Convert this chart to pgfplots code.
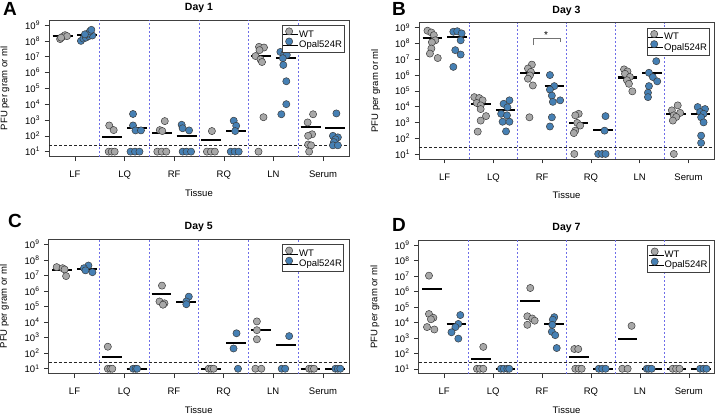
\documentclass[border=0pt]{standalone}
\usepackage{fontspec}
\setmainfont{Liberation Sans}
\usepackage{pgfplots}
\pgfplotsset{compat=1.18}
\definecolor{wtc}{RGB}{168,168,168}
\definecolor{opc}{RGB}{70,128,180}
\definecolor{sepc}{RGB}{110,110,232}
\definecolor{edgec}{RGB}{60,60,60}

\pgfplotsset{
 every tick/.style={black!80, line width=0.5pt},
 every axis x label/.style={at={(axis description cs:0.5,0)}, anchor=center, yshift=-36pt},
 every axis y label/.style={at={(axis description cs:-0.147,0.5)}, anchor=center, rotate=90},
 every axis title/.style={font=\bfseries\fontsize{10.5}{11}\selectfont, at={(axis description cs:0.5,1)}, anchor=center, yshift=12pt},
 legend image code/.code={\path (-6pt,0pt) -- (9pt,0pt); \draw[#1] plot coordinates {(0pt,3.3pt)};},
}
\pgfplotsset{
 wtpts/.style={only marks, mark=*, mark size=3.6pt, mark options={fill=wtc, draw=edgec, line width=0.5pt}},
 oppts/.style={only marks, mark=*, mark size=3.6pt, mark options={fill=opc, draw=edgec, line width=0.5pt}},
 medbar/.style={forget plot, black, line width=2.1pt, mark=none},
}
\newcommand{\guides}{%
 \pgfplotsinvokeforeach{1.5,2.5,3.5,4.5,5.5}{\draw[sepc, dash pattern=on 2pt off 2pt, line width=0.8pt] (axis cs:##1,4.786) -- (axis cs:##1,2.089e9);}
 \draw[black!85, dash pattern=on 3pt off 2pt, line width=0.5pt] (axis cs:0.476,25) -- (axis cs:6.524,25);
}

\begin{document}
\begin{tikzpicture}
\path[use as bounding box] (0,0) rectangle (720pt,415pt);

% ---------------- Panel A: Day 1 ----------------
\begin{axis}[at={(49pt,258.3pt)}, anchor=south west, scale only axis, width=300pt, height=136.7pt, title={Day 1},
  xmin=0.476, xmax=6.524, ymode=log, ymin=4.786, ymax=2.089e9,
  xtick={1,2,3,4,5,6}, xticklabels={LF,LQ,RF,RQ,LN,Serum},
  ytick={1e1,1e2,1e3,1e4,1e5,1e6,1e7,1e8,1e9},
  yticklabels={10\textsuperscript{1},10\textsuperscript{2},10\textsuperscript{3},10\textsuperscript{4},10\textsuperscript{5},10\textsuperscript{6},10\textsuperscript{7},10\textsuperscript{8},10\textsuperscript{9}},
  yminorticks=false, tick align=outside, major tick length=4.5pt,
  xtick pos=left, ytick pos=left,
  axis line style={black!75, line width=0.6pt},
  tick label style={font=\fontsize{9.5}{10}\selectfont},
  xticklabel style={yshift=-6.5pt}, yticklabel style={xshift=-1pt},
  label style={font=\fontsize{9.5}{10}\selectfont},
  xlabel={Tissue}, ylabel={PFU per gram or ml},
  legend cell align=left,
  legend style={at={(axis description cs:0.983,0.963)}, anchor=north east, draw=black!75, fill=white,
    font=\fontsize{9.5}{9.5}\selectfont, inner xsep=1pt, inner ysep=2.5pt, row sep=-1.6pt, nodes={inner sep=0.8pt}}]
\guides
\addplot[wtpts] coordinates {
 (0.70,1.3e8) (0.75,1.8e8) (0.80,2.3e8) (0.84,2.0e8) (0.72,1.6e8)
 (1.68,10) (1.74,10) (1.80,10) (1.69,450) (1.78,230)
 (2.66,10) (2.75,10) (2.84,10) (2.81,850) (2.71,230) (2.76,200)
 (3.66,10) (3.74,10) (3.82,10) (3.76,200)
 (4.71,4.2e7) (4.81,3.8e7) (4.72,2.6e7) (4.64,1.1e7) (4.74,6.8e6) (4.77,4.6e6) (4.80,1500) (4.70,10)
 (5.80,2300) (5.69,700) (5.78,125) (5.70,100) (5.70,28) (5.76,25) (5.72,10)
};
\addlegendentry{WT}
\addplot[oppts] coordinates {
 (1.12,1.0e8) (1.17,1.4e8) (1.22,1.6e8) (1.28,2.0e8) (1.35,2.2e8) (1.25,2.8e8) (1.30,4.0e8) (1.33,5.0e8) (1.20,2.6e8)
 (2.17,2400) (2.17,450) (2.22,220) (2.33,220) (2.12,10) (2.21,10) (2.30,10)
 (3.15,500) (3.17,300) (3.30,220) (3.17,10) (3.25,10) (3.34,10)
 (4.20,900) (4.25,430) (4.23,200) (4.14,10) (4.22,10) (4.30,10)
 (5.14,2.0e7) (5.22,1.5e7) (5.27,1.3e7) (5.19,8e6) (5.20,3e6) (5.26,2.8e5) (5.26,1.0e4) (5.16,2300)
 (6.27,2600) (6.20,100) (6.30,80) (6.25,60) (6.22,40) (6.20,25) (6.30,25)
};
\addlegendentry{Opal524R}
\addplot[medbar] coordinates {(0.55,2.0e8) (0.95,2.0e8)};
\addplot[medbar] coordinates {(1.55,80) (1.95,80)};
\addplot[medbar] coordinates {(2.55,150) (2.95,150)};
\addplot[medbar] coordinates {(3.55,52) (3.95,52)};
\addplot[medbar] coordinates {(4.55,1.1e7) (4.95,1.1e7)};
\addplot[medbar] coordinates {(5.55,380) (5.95,380)};
\addplot[medbar] coordinates {(1.05,2.4e8) (1.45,2.4e8)};
\addplot[medbar] coordinates {(2.05,310) (2.45,310)};
\addplot[medbar] coordinates {(3.05,100) (3.45,100)};
\addplot[medbar] coordinates {(4.05,210) (4.45,210)};
\addplot[medbar] coordinates {(5.05,8.5e6) (5.45,8.5e6)};
\addplot[medbar] coordinates {(6.05,300) (6.45,300)};
\end{axis}

% ---------------- Panel B: Day 3 ----------------
\begin{axis}[at={(419pt,256pt)}, anchor=south west, scale only axis, width=295pt, height=136.3pt, title={Day 3},
  xmin=0.476, xmax=6.524, ymode=log, ymin=4.786, ymax=2.089e9,
  xtick={1,2,3,4,5,6}, xticklabels={LF,LQ,RF,RQ,LN,Serum},
  ytick={1e1,1e2,1e3,1e4,1e5,1e6,1e7,1e8,1e9},
  yticklabels={10\textsuperscript{1},10\textsuperscript{2},10\textsuperscript{3},10\textsuperscript{4},10\textsuperscript{5},10\textsuperscript{6},10\textsuperscript{7},10\textsuperscript{8},10\textsuperscript{9}},
  yminorticks=false, tick align=outside, major tick length=4.5pt,
  xtick pos=left, ytick pos=left,
  axis line style={black!75, line width=0.6pt},
  tick label style={font=\fontsize{9.5}{10}\selectfont},
  xticklabel style={yshift=-6.5pt}, yticklabel style={xshift=-1pt},
  label style={font=\fontsize{9.5}{10}\selectfont},
  xlabel={Tissue}, ylabel={PFU per gram or ml},
  legend cell align=left,
  legend style={at={(axis description cs:0.983,0.963)}, anchor=north east, draw=black!75, fill=white,
    font=\fontsize{9.5}{9.5}\selectfont, inner xsep=1pt, inner ysep=2.5pt, row sep=-1.6pt, nodes={inner sep=0.8pt}}]
\guides
\addplot[wtpts] coordinates {
 (0.65,6.5e8) (0.73,5e8) (0.78,3.4e8) (0.81,1.6e8) (0.74,1.2e8) (0.73,4.8e7) (0.70,2.3e7) (0.86,1.2e7)
 (1.61,4e4) (1.71,3.5e4) (1.78,2.5e4) (1.66,1.7e4) (1.74,1.2e4) (1.74,7e3) (1.85,2.5e3) (1.74,1.3e3) (1.68,260)
 (2.79,4.6e6) (2.71,2.6e6) (2.77,1.6e6) (2.75,9.5e5) (2.71,5.9e5) (2.81,2.2e5) (2.74,2100)
 (3.75,3.5e3) (3.68,2.8e3) (3.72,930) (3.78,630) (3.68,300) (3.65,210) (3.66,10)
 (4.68,2.3e6) (4.75,1.7e6) (4.70,1.2e6) (4.80,7.6e5) (4.74,4.7e5) (4.78,2.8e5) (4.85,9.3e4)
 (5.78,1.2e4) (5.66,5.8e3) (5.83,4e3) (5.70,2.8e3) (5.75,2.2e3) (5.68,1.3e3) (5.70,10)
};
\addlegendentry{WT}
\addplot[oppts] coordinates {
 (1.18,5.6e8) (1.26,6e8) (1.35,4.4e8) (1.33,1.6e8) (1.22,3.8e7) (1.33,2e7) (1.18,3.3e6)
 (2.33,2.5e4) (2.21,1.5e4) (2.29,9e3) (2.16,3.5e3) (2.28,2.8e3) (2.19,1.1e3) (2.33,1.1e3) (2.26,270)
 (3.16,1e6) (3.25,2e5) (3.16,1.2e5) (3.20,5e4) (3.37,2.5e4) (3.22,2e4) (3.20,2100) (3.16,550)
 (4.30,2.5e3) (4.28,300) (4.15,10) (4.23,10) (4.30,10)
 (5.34,7.6e6) (5.19,1.4e6) (5.27,7.5e5) (5.36,4e5) (5.19,2e5) (5.17,7.6e4) (5.17,4e4)
 (6.19,9.4e3) (6.34,7e3) (6.24,4.5e3) (6.31,3.5e3) (6.26,2.1e3) (6.31,1e3) (6.26,145) (6.26,50)
};
\addlegendentry{Opal524R}
\addplot[medbar] coordinates {(0.55,2.3e8) (0.95,2.3e8)};
\addplot[medbar] coordinates {(1.55,1.5e4) (1.95,1.5e4)};
\addplot[medbar] coordinates {(2.55,1.3e6) (2.95,1.3e6)};
\addplot[medbar] coordinates {(3.55,930) (3.95,930)};
\addplot[medbar] coordinates {(4.55,7e5) (4.95,7e5)};
\addplot[medbar] coordinates {(5.55,3.5e3) (5.95,3.5e3)};
\addplot[medbar] coordinates {(1.05,2.5e8) (1.45,2.5e8)};
\addplot[medbar] coordinates {(2.05,6.5e3) (2.45,6.5e3)};
\addplot[medbar] coordinates {(3.05,1.9e5) (3.45,1.9e5)};
\addplot[medbar] coordinates {(4.05,330) (4.45,330)};
\addplot[medbar] coordinates {(5.05,1.35e6) (5.45,1.35e6)};
\addplot[medbar] coordinates {(6.05,3.4e3) (6.45,3.4e3)};
\draw[black!55, line width=0.6pt] (axis cs:2.81,8e7) |- (axis cs:3.37,2.1e8) -- (axis cs:3.37,1.2e8);
\node[anchor=base, inner sep=0pt, font=\fontsize{10}{10}\selectfont] at (axis cs:3.08,2.1e8) {*};
\end{axis}

% ---------------- Panel C: Day 5 ----------------
\begin{axis}[at={(48.5pt,41.3pt)}, anchor=south west, scale only axis, width=300.5pt, height=134.4pt, title={Day 5},
  xmin=0.476, xmax=6.524, ymode=log, ymin=4.786, ymax=2.089e9,
  xtick={1,2,3,4,5,6}, xticklabels={LF,LQ,RF,RQ,LN,Serum},
  ytick={1e1,1e2,1e3,1e4,1e5,1e6,1e7,1e8,1e9},
  yticklabels={10\textsuperscript{1},10\textsuperscript{2},10\textsuperscript{3},10\textsuperscript{4},10\textsuperscript{5},10\textsuperscript{6},10\textsuperscript{7},10\textsuperscript{8},10\textsuperscript{9}},
  yminorticks=false, tick align=outside, major tick length=4.5pt,
  xtick pos=left, ytick pos=left,
  axis line style={black!75, line width=0.6pt},
  tick label style={font=\fontsize{9.5}{10}\selectfont},
  xticklabel style={yshift=-6.5pt}, yticklabel style={xshift=-1pt},
  label style={font=\fontsize{9.5}{10}\selectfont},
  xlabel={Tissue}, ylabel={PFU per gram or ml},
  legend cell align=left,
  legend style={at={(axis description cs:0.983,0.963)}, anchor=north east, draw=black!75, fill=white,
    font=\fontsize{9.5}{9.5}\selectfont, inner xsep=1pt, inner ysep=2.5pt, row sep=-1.6pt, nodes={inner sep=0.8pt}}]
\guides
\addplot[wtpts] coordinates {
 (0.64,3.4e7) (0.76,2.9e7) (0.80,2.4e7) (0.83,9e6)
 (1.67,260) (1.67,10) (1.72,10) (1.76,10)
 (2.76,2.2e6) (2.71,2.1e5) (2.81,1.6e5) (2.78,1.3e5)
 (3.70,10) (3.75,10) (3.80,10)
 (4.67,1.1e4) (4.67,3e3) (4.67,780) (4.64,10) (4.76,10)
 (5.72,10) (5.77,10) (5.82,10)
};
\addlegendentry{WT}
\addplot[oppts] coordinates {
 (1.28,4.3e7) (1.19,2.9e7) (1.22,2.1e7) (1.36,1.6e7)
 (2.18,10) (2.23,10) (2.26,10)
 (3.30,4.3e5) (3.25,2.1e5) (3.25,1.4e5)
 (4.26,1.9e3) (4.20,200) (4.29,10)
 (5.32,1.25e3) (5.17,10) (5.24,10)
 (6.25,10) (6.30,10) (6.35,10)
};
\addlegendentry{Opal524R}
\addplot[medbar] coordinates {(0.55,2.3e7) (0.95,2.3e7)};
\addplot[medbar] coordinates {(1.55,60) (1.95,60)};
\addplot[medbar] coordinates {(2.55,6e5) (2.95,6e5)};
\addplot[medbar] coordinates {(3.55,10) (3.95,10)};
\addplot[medbar] coordinates {(4.55,3e3) (4.95,3e3)};
\addplot[medbar] coordinates {(5.55,10) (5.95,10)};
\addplot[medbar] coordinates {(1.05,2.7e7) (1.45,2.7e7)};
\addplot[medbar] coordinates {(2.05,10) (2.45,10)};
\addplot[medbar] coordinates {(3.05,1.9e5) (3.45,1.9e5)};
\addplot[medbar] coordinates {(4.05,470) (4.45,470)};
\addplot[medbar] coordinates {(5.05,330) (5.45,330)};
\addplot[medbar] coordinates {(6.05,10) (6.45,10)};
\end{axis}

% ---------------- Panel D: Day 7 ----------------
\begin{axis}[at={(418.5pt,41.3pt)}, anchor=south west, scale only axis, width=296pt, height=133.4pt, title={Day 7},
  xmin=0.476, xmax=6.524, ymode=log, ymin=4.786, ymax=2.089e9,
  xtick={1,2,3,4,5,6}, xticklabels={LF,LQ,RF,RQ,LN,Serum},
  ytick={1e1,1e2,1e3,1e4,1e5,1e6,1e7,1e8,1e9},
  yticklabels={10\textsuperscript{1},10\textsuperscript{2},10\textsuperscript{3},10\textsuperscript{4},10\textsuperscript{5},10\textsuperscript{6},10\textsuperscript{7},10\textsuperscript{8},10\textsuperscript{9}},
  yminorticks=false, tick align=outside, major tick length=4.5pt,
  xtick pos=left, ytick pos=left,
  axis line style={black!75, line width=0.6pt},
  tick label style={font=\fontsize{9.5}{10}\selectfont},
  xticklabel style={yshift=-6.5pt}, yticklabel style={xshift=-1pt},
  label style={font=\fontsize{9.5}{10}\selectfont},
  xlabel={Tissue}, ylabel={PFU per gram or ml},
  legend cell align=left,
  legend style={at={(axis description cs:0.983,0.963)}, anchor=north east, draw=black!75, fill=white,
    font=\fontsize{9.5}{9.5}\selectfont, inner xsep=1pt, inner ysep=2.5pt, row sep=-1.6pt, nodes={inner sep=0.8pt}}]
\guides
\addplot[wtpts] coordinates {
 (0.69,1.07e7) (0.69,3.5e4) (0.78,2e4) (0.73,1.6e4) (0.65,5e3) (0.80,3.5e3)
 (1.80,260) (1.67,10) (1.73,10) (1.80,10)
 (2.76,1.7e6) (2.70,2.5e4) (2.80,1.8e4) (2.85,1.3e4) (2.70,7e3)
 (3.66,190) (3.74,190) (3.68,10) (3.75,10) (3.81,10)
 (4.83,6e3) (4.64,10) (4.75,10)
 (5.67,10) (5.74,10) (5.81,10)
};
\addlegendentry{WT}
\addplot[oppts] coordinates {
 (1.33,3e4) (1.29,8e3) (1.23,5e3) (1.15,2.3e3) (1.29,900)
 (2.16,10) (2.22,10) (2.29,10) (2.33,10)
 (3.25,2.2e4) (3.22,1.5e4) (3.21,7e3) (3.20,2.5e3) (3.27,1.5e3) (3.30,220)
 (4.16,10) (4.23,10) (4.30,10)
 (5.14,10) (5.18,10) (5.24,10)
 (6.23,10) (6.30,10) (6.36,10)
};
\addlegendentry{Opal524R}
\addplot[medbar] coordinates {(0.55,1.5e6) (0.95,1.5e6)};
\addplot[medbar] coordinates {(1.55,45) (1.95,45)};
\addplot[medbar] coordinates {(2.55,2.5e5) (2.95,2.5e5)};
\addplot[medbar] coordinates {(3.55,60) (3.95,60)};
\addplot[medbar] coordinates {(4.55,900) (4.95,900)};
\addplot[medbar] coordinates {(5.55,10) (5.95,10)};
\addplot[medbar] coordinates {(1.05,8e3) (1.45,8e3)};
\addplot[medbar] coordinates {(2.05,10) (2.45,10)};
\addplot[medbar] coordinates {(3.05,8e3) (3.45,8e3)};
\addplot[medbar] coordinates {(4.05,10) (4.45,10)};
\addplot[medbar] coordinates {(5.05,10) (5.45,10)};
\addplot[medbar] coordinates {(6.05,10) (6.45,10)};
\end{axis}

% panel letters
\node[anchor=north west, inner sep=0pt, font=\bfseries\fontsize{19}{19}\selectfont] at (3pt,413pt) {A};
\node[anchor=north west, inner sep=0pt, font=\bfseries\fontsize{19}{19}\selectfont] at (392pt,413pt) {B};
\node[anchor=north west, inner sep=0pt, font=\bfseries\fontsize{19}{19}\selectfont] at (8pt,201pt) {C};
\node[anchor=north west, inner sep=0pt, font=\bfseries\fontsize{19}{19}\selectfont] at (392pt,197pt) {D};
\end{tikzpicture}
\end{document}
